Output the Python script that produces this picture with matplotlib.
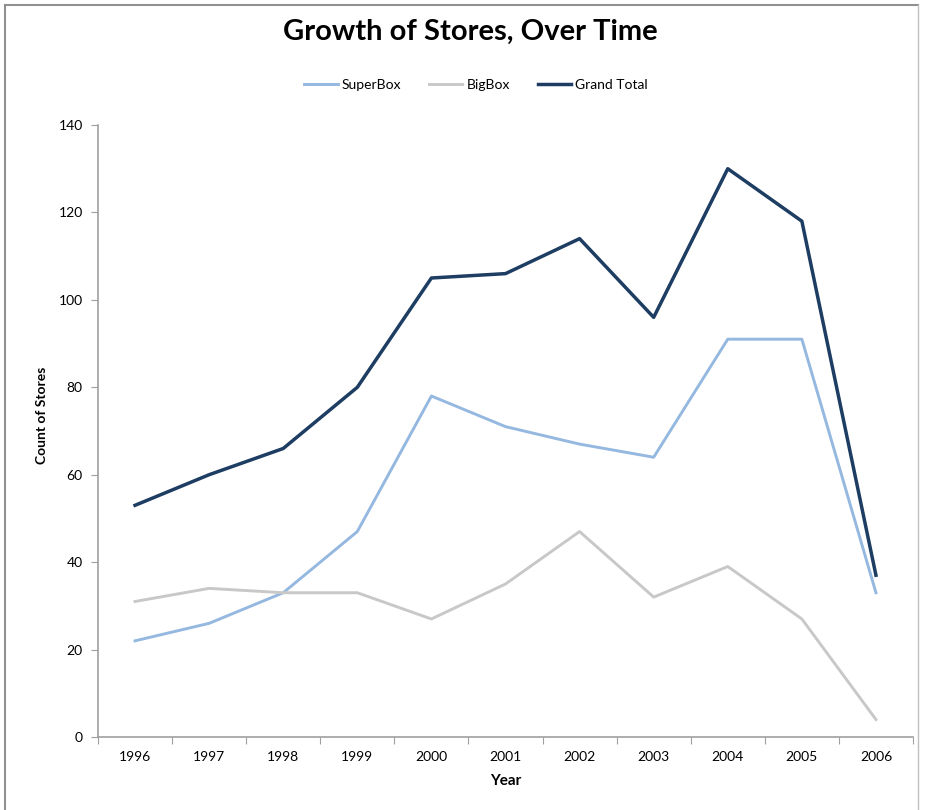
import matplotlib
matplotlib.use("Agg")
import matplotlib.pyplot as plt
from matplotlib.lines import Line2D

years = ["1996", "1997", "1998", "1999", "2000", "2001", "2002", "2003", "2004", "2005", "2006"]
superbox = [22, 26, 33, 47, 78, 71, 67, 64, 91, 91, 33]
bigbox = [31, 34, 33, 33, 27, 35, 47, 32, 39, 27, 4]
grand_total = [53, 60, 66, 80, 105, 106, 114, 96, 130, 118, 37]
yticks = [0, 20, 40, 60, 80, 100, 120, 140]

plt.rcParams['font.family'] = ['Lato', 'DejaVu Sans']

fig = plt.figure(figsize=(9.25, 8.1), dpi=100)
ax = fig.add_axes([98/925, 73/810, (913-98)/925, (737-125)/810])

x = list(range(len(years)))
ax.plot(x, superbox, color='#95b8e0', lw=2.1, label='SuperBox', solid_joinstyle='round')
ax.plot(x, bigbox, color='#c8c8c8', lw=2.1, label='BigBox', solid_joinstyle='round')
ax.plot(x, grand_total, color='#1e3d62', lw=2.5, label='Grand Total', solid_joinstyle='round')

ax.set_xlim(-0.5, len(years) - 0.5)
ax.set_ylim(0, 140)
ax.set_yticks(yticks)
ax.set_yticklabels([str(v) for v in yticks], fontsize=10)
ax.set_xticks([i - 0.5 for i in range(len(years) + 1)], minor=False)
ax.set_xticklabels([''] * (len(years) + 1))
ax.set_xticks(x, minor=True)
ax.set_xticklabels(years, minor=True, fontsize=10)
ax.tick_params(axis='x', which='minor', length=0, pad=10)
ax.tick_params(axis='x', which='major', length=5, color='#a0a0a0', direction='out')
ax.tick_params(axis='y', length=5, color='#a0a0a0', direction='out', pad=6)

for s in ['top', 'right']:
    ax.spines[s].set_visible(False)
for s in ['left', 'bottom']:
    ax.spines[s].set_color('#a0a0a0')
    ax.spines[s].set_linewidth(1.2)

ax.set_xlabel('Year', fontsize=11, fontweight='bold', labelpad=8)
fig.text(42/925, 1 - 415/810, 'Count of Stores', rotation=90, fontsize=10,
         fontweight='bold', ha='center', va='center')

fig.text(470/925, 1 - 32/810, 'Growth of Stores, Over Time', fontsize=21,
         fontweight='bold', ha='center', va='center')

handles = [Line2D([], [], color='#95b8e0', lw=2.1),
           Line2D([], [], color='#c8c8c8', lw=2.1),
           Line2D([], [], color='#1e3d62', lw=2.5)]
fig.legend(handles, ['SuperBox', 'BigBox', 'Grand Total'], loc='center',
           bbox_to_anchor=(476/925, 1 - 85/810), ncol=3, frameon=False,
           fontsize=10, handlelength=2.4, handletextpad=0.3, columnspacing=2.0)

# outer frame
fig.add_artist(Line2D([5/925, 5/925], [0, 1 - 5/810], transform=fig.transFigure, color='#909090', lw=1.5))
fig.add_artist(Line2D([5/925, 918/925], [1 - 5/810, 1 - 5/810], transform=fig.transFigure, color='#909090', lw=1.5))
fig.add_artist(Line2D([918/925, 918/925], [0, 1 - 5/810], transform=fig.transFigure, color='#c0c0c0', lw=1.0))

fig.savefig('out.png', dpi=100)
